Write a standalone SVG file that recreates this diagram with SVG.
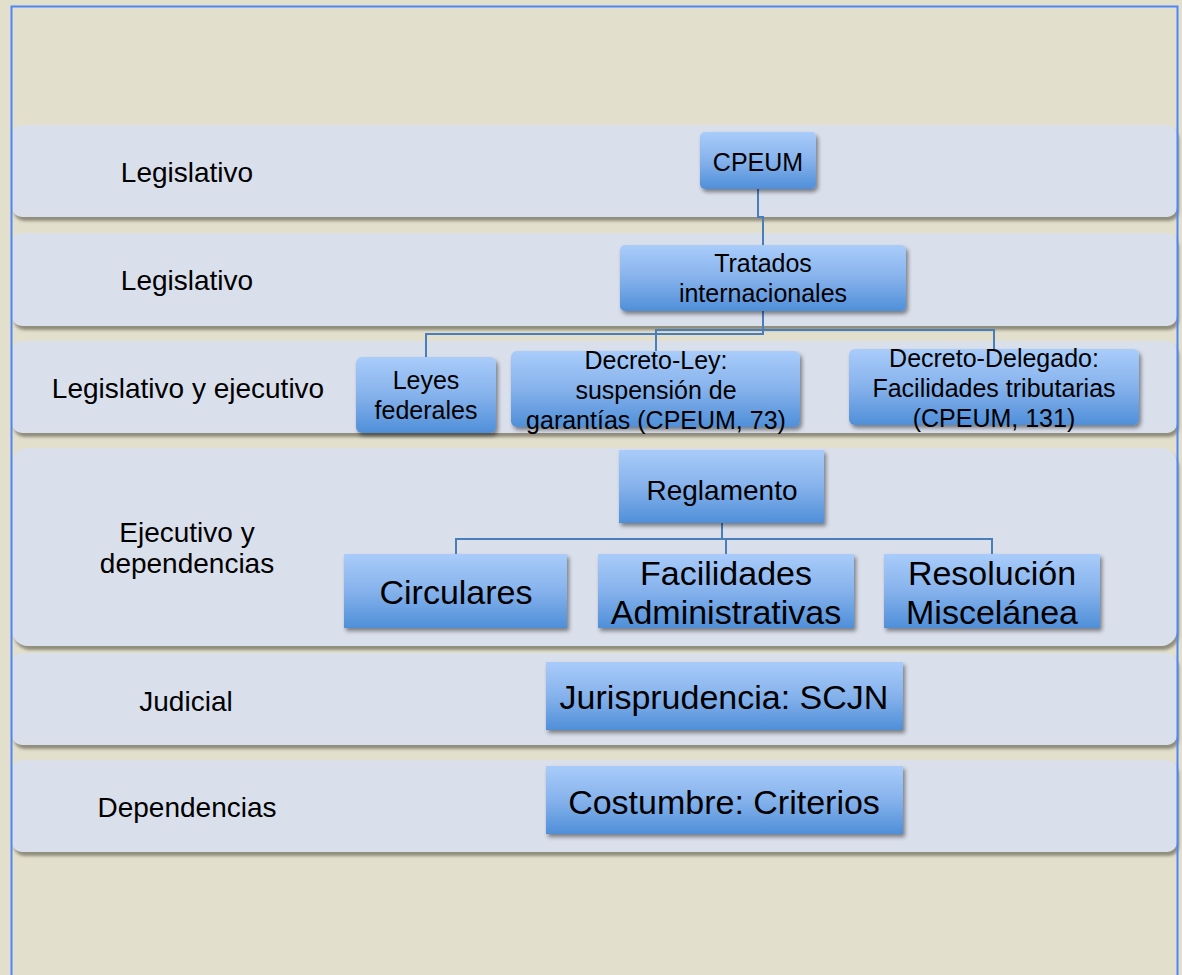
<svg xmlns="http://www.w3.org/2000/svg" width="1182" height="975" viewBox="0 0 1182 975">
<defs>
<linearGradient id="boxg" x1="0" y1="0" x2="0" y2="1">
<stop offset="0" stop-color="#A9CCFA"/>
<stop offset="0.5" stop-color="#86B2EC"/>
<stop offset="1" stop-color="#4F8FD9"/>
</linearGradient>
<filter id="bandsh" x="-5%" y="-20%" width="110%" height="150%">
<feDropShadow dx="2" dy="4" stdDeviation="1.5" flood-color="#6E6B5C" flood-opacity="0.7"/>
</filter>
<filter id="boxsh" x="-10%" y="-20%" width="125%" height="150%">
<feDropShadow dx="2" dy="3" stdDeviation="2" flood-color="#000" flood-opacity="0.45"/>
</filter>
<style>
.band{fill:#DADFEC;filter:url(#bandsh)}
.box{fill:url(#boxg);filter:url(#boxsh)}
.lbl{font-family:"Liberation Sans",Arial,sans-serif;font-size:28px;fill:#000;text-anchor:middle}
.t1{font-family:"Liberation Sans",Arial,sans-serif;font-size:25px;fill:#000;text-anchor:middle}
.t2{font-family:"Liberation Sans",Arial,sans-serif;font-size:34px;fill:#000;text-anchor:middle}
.con{fill:none;stroke:#4A7EBB;stroke-width:2}
</style>
</defs>
<rect x="0" y="0" width="1182" height="975" fill="#E2DFCC"/>
<g id="bands">
<rect class="band" x="12" y="125" width="1165" height="92" rx="10"/>
<rect class="band" x="12" y="233" width="1165" height="93" rx="10"/>
<rect class="band" x="12" y="341" width="1165" height="92" rx="10"/>
<rect class="band" x="12" y="448" width="1165" height="198" rx="16"/>
<rect class="band" x="12" y="653" width="1165" height="92" rx="10"/>
<rect class="band" x="12" y="760" width="1165" height="92" rx="10"/>
</g>
<g id="labels">
<text class="lbl" x="187" y="182">Legislativo</text>
<text class="lbl" x="187" y="290">Legislativo</text>
<text class="lbl" x="188" y="398">Legislativo y ejecutivo</text>
<text class="lbl" x="187" y="542">Ejecutivo y</text>
<text class="lbl" x="187" y="573">dependencias</text>
<text class="lbl" x="186" y="711">Judicial</text>
<text class="lbl" x="187" y="817">Dependencias</text>
</g>
<g id="connectors">
<polyline class="con" points="758,189 758,217 763,217 763,245"/>
<polyline class="con" points="763,311 763,334 426,334 426,357"/>
<polyline class="con" points="763,330 656,330 656,351"/>
<polyline class="con" points="763,330 994,330 994,349"/>
<polyline class="con" points="722,523 722,539"/>
<polyline class="con" points="456,554 456,539 992,539 992,554"/>
<polyline class="con" points="726,539 726,554"/>
</g>
<g id="n-cpeum">
<rect class="box" x="700" y="132" width="116" height="57" rx="5"/>
<text class="t1" x="758" y="171">CPEUM</text>
</g>
<g id="n-tratados">
<rect class="box" x="620" y="245" width="286" height="66" rx="5"/>
<text class="t1" x="763" y="272">Tratados</text>
<text class="t1" x="763" y="302">internacionales</text>
</g>
<g id="n-leyes">
<rect class="box" x="356" y="357" width="140" height="76" rx="6"/>
<text class="t1" x="426" y="389">Leyes</text>
<text class="t1" x="426" y="419">federales</text>
</g>
<g id="n-decretoley">
<rect class="box" x="511" y="351" width="289" height="76" rx="6"/>
<text class="t1" x="656" y="369">Decreto-Ley:</text>
<text class="t1" x="656" y="399">suspensión de</text>
<text class="t1" x="656" y="429">garantías (CPEUM, 73)</text>
</g>
<g id="n-decretodelegado">
<rect class="box" x="849" y="349" width="290" height="76" rx="6"/>
<text class="t1" x="994" y="367">Decreto-Delegado:</text>
<text class="t1" x="994" y="397">Facilidades tributarias</text>
<text class="t1" x="994" y="427">(CPEUM, 131)</text>
</g>
<g id="n-reglamento">
<rect class="box" x="619" y="450" width="205" height="73"/>
<text class="t1" x="722" y="500" style="font-size:28px">Reglamento</text>
</g>
<g id="n-circulares">
<rect class="box" x="344" y="554" width="223" height="74"/>
<text class="t2" x="456" y="604">Circulares</text>
</g>
<g id="n-facilidades">
<rect class="box" x="598" y="554" width="256" height="74"/>
<text class="t2" x="726" y="585">Facilidades</text>
<text class="t2" x="726" y="624">Administrativas</text>
</g>
<g id="n-resolucion">
<rect class="box" x="884" y="554" width="216" height="74"/>
<text class="t2" x="992" y="585">Resolución</text>
<text class="t2" x="992" y="624">Miscelánea</text>
</g>
<g id="n-jurisprudencia">
<rect class="box" x="546" y="662" width="357" height="68"/>
<text class="t2" x="724" y="709">Jurisprudencia: SCJN</text>
</g>
<g id="n-costumbre">
<rect class="box" x="546" y="766" width="357" height="68"/>
<text class="t2" x="724" y="814">Costumbre: Criterios</text>
</g>
<g id="frame">
<polyline points="11.5,975 11.5,6.5 1177.5,6.5 1177.5,975" fill="none" stroke="#4F86F7" stroke-width="2"/>
</g>
</svg>
